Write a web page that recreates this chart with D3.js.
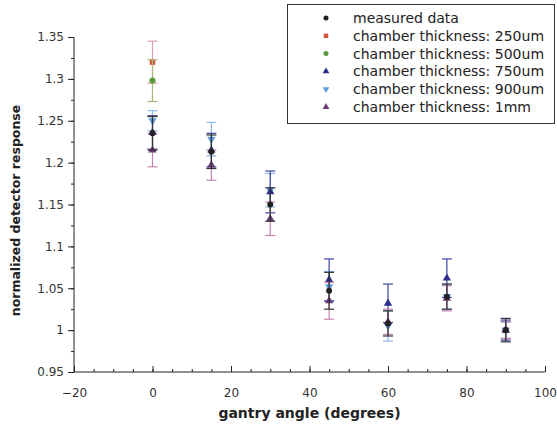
<!DOCTYPE html>
<html>
<head>
<meta charset="utf-8">
<script src="https://cdn.jsdelivr.net/npm/d3@7"></script>
<style>
body { margin: 0; background: #fff; }
text { font-family: "DejaVu Sans", sans-serif; }
</style>
</head>
<body>
<div id="chart"></div>
<script>
// gantry angles and normalized responses
const angles = [0, 15, 30, 45, 60, 75, 90];

const measured = [1.235, 1.213, 1.15, 1.047, 1.008, 1.04, 1.0];
const measuredErr = [0.02, 0.02, 0.02, 0.022, 0.015, 0.015, 0.014];

const t250 = [1.32, null, null, null, null, null, 1.0];
const t250Err = [0.025, null, null, null, null, null, 0.01];

const t500 = [1.298, null, null, null, null, null, 1.0];
const t500Err = [0.025, null, null, null, null, null, 0.01];

const t750 = [1.236, 1.215, 1.165, 1.06, 1.032, 1.062, 1.0];
const t750Err = [0.02, 0.02, 0.025, 0.025, 0.023, 0.023, 0.012];

const t900 = [1.25, 1.228, 1.167, 1.052, 1.005, 1.04, 1.0];
const t900Err = [0.012, 0.02, 0.02, 0.018, 0.018, 0.015, 0.01];

const t1mm = [1.215, 1.197, 1.133, 1.035, 1.01, 1.038, 1.0];
const t1mmErr = [0.02, 0.018, 0.02, 0.022, 0.015, 0.015, 0.01];

const xTicks = [-20, 0, 20, 40, 60, 80, 100];
const yTicks = [0.95, 1, 1.05, 1.1, 1.15, 1.2, 1.25, 1.3, 1.35];

const series = [
    {name: 'chamber thickness: 250um', vals: t250, errs: t250Err, color: '#d2553a', bar: '#dd9fb8', symbol: d3.symbolSquare, size: 30},
    {name: 'chamber thickness: 500um', vals: t500, errs: t500Err, color: '#5e9a3c', bar: '#a9b87c', symbol: d3.symbolCircle, size: 30},
    {name: 'chamber thickness: 900um', vals: t900, errs: t900Err, color: '#5b9fde', bar: '#8cb9e6', symbol: 'down', size: 30},
    {name: 'chamber thickness: 750um', vals: t750, errs: t750Err, color: '#2c2f8c', bar: '#3d45a6', symbol: d3.symbolTriangle, size: 30},
    {name: 'chamber thickness: 1mm', vals: t1mm, errs: t1mmErr, color: '#6b3b78', bar: '#c584b4', symbol: d3.symbolTriangle, size: 30},
    {name: 'measured data', vals: measured, errs: measuredErr, color: '#222', bar: '#333', symbol: d3.symbolCircle, size: 28}
];
const legendOrder = ['measured data', 'chamber thickness: 250um', 'chamber thickness: 500um',
    'chamber thickness: 750um', 'chamber thickness: 900um', 'chamber thickness: 1mm'];

const W = 557, H = 427;
const margin = {left: 74, right: 12, top: 37, bottom: 55};

let svg = d3.select('#chart').append('svg').attr('width', W).attr('height', H);

let x = d3.scaleLinear().domain([-20, 100]).range([margin.left, W - margin.right - 0]);
let y = d3.scaleLinear().domain([0.95, 1.35]).range([H - margin.bottom, margin.top]);

const symPath = function(s, size) {
    if (s === 'down') {
        return d3.symbol().type(d3.symbolTriangle).size(size)();
    }
    return d3.symbol().type(s).size(size)();
};

// x axis: ticks point up into the plot
let xAxis = svg.append('g').attr('transform', 'translate(0,' + y(0.95) + ')');
xAxis.call(d3.axisBottom(x).tickValues(d3.range(-20, 101, 5)).tickSize(-3).tickFormat(''));
xAxis.call(g => g.selectAll('.tick line').attr('stroke', '#222'));
let xMajor = svg.append('g').attr('transform', 'translate(0,' + y(0.95) + ')')
    .call(d3.axisBottom(x).tickValues(xTicks).tickSize(-6).tickPadding(16)
        .tickFormat(d => d < 0 ? '\u2212' + Math.abs(d) : d));
xMajor.select('.domain').remove();
xMajor.selectAll('.tick line').attr('stroke', '#222');
xMajor.selectAll('.tick text').attr('font-size', 12).attr('fill', '#333').attr('font-family', 'DejaVu Sans');
xAxis.select('.domain').attr('stroke', '#222').attr('d', 'M' + x(-20) + ',0H' + x(100));

// y axis: ticks point outward
let yAxis = svg.append('g').attr('transform', 'translate(' + x(-20) + ',0)');
yAxis.call(d3.axisLeft(y).tickValues(d3.range(0, 17).map(i => 0.95 + i * 0.025)).tickSize(3).tickFormat(''));
yAxis.selectAll('.tick line').attr('stroke', '#222');
yAxis.select('.domain').attr('stroke', '#222').attr('d', 'M0,' + y(1.35) + 'V' + y(0.95));
let yMajor = svg.append('g').attr('transform', 'translate(' + x(-20) + ',0)')
    .call(d3.axisLeft(y).tickValues(yTicks).tickSize(6).tickPadding(4).tickFormat(d3.format('')));
yMajor.select('.domain').remove();
yMajor.selectAll('.tick line').attr('stroke', '#222');
yMajor.selectAll('.tick text').attr('font-size', 12).attr('fill', '#333').attr('font-family', 'DejaVu Sans');

// axis titles
svg.append('text')
    .attr('x', (x(-20) + x(100)) / 2)
    .attr('y', 418)
    .attr('text-anchor', 'middle')
    .attr('font-size', 14)
    .attr('font-weight', 'bold')
    .attr('fill', '#222')
    .text('gantry angle (degrees)');
svg.append('text')
    .attr('transform', 'translate(20,' + ((y(0.95) + y(1.35)) / 2 + 6) + ') rotate(-90)')
    .attr('text-anchor', 'middle')
    .attr('font-size', 12.5)
    .attr('font-weight', 'bold')
    .attr('fill', '#222')
    .text('normalized detector response');

// error bars and markers
let plot = svg.append('g');
series.forEach(function(s) {
    let pts = angles.map((a, i) => ({a: a, v: s.vals[i], e: s.errs[i]})).filter(d => d.v !== null);
    let g = plot.append('g');
    pts.forEach(function(d) {
        let cx = x(d.a);
        g.append('line').attr('x1', cx).attr('x2', cx).attr('y1', y(d.v - d.e)).attr('y2', y(d.v + d.e))
            .attr('stroke', s.bar).attr('stroke-width', 1.2);
        [d.v - d.e, d.v + d.e].forEach(function(v) {
            g.append('line').attr('x1', cx - 5).attr('x2', cx + 5).attr('y1', y(v)).attr('y2', y(v))
                .attr('stroke', s.bar).attr('stroke-width', 1.2);
        });
    });
    g.selectAll('.mk')
        .data(pts)
        .enter()
        .append('path')
        .attr('d', symPath(s.symbol, s.size))
        .attr('transform', d => 'translate(' + x(d.a) + ',' + y(d.v) + ')' + (s.symbol === 'down' ? ' rotate(180)' : ''))
        .attr('fill', s.color);
});

// legend
let leg = svg.append('g');
leg.append('rect')
    .attr('x', 287.5).attr('y', 4.5).attr('width', 267).attr('height', 119)
    .attr('fill', '#fff').attr('stroke', '#333').attr('stroke-width', 1);
legendOrder.forEach(function(name, i) {
    let s = series.find(d => d.name === name);
    let ly = 18 + i * 17.8;
    leg.append('path')
        .attr('d', symPath(s.symbol, 20))
        .attr('transform', 'translate(326,' + ly + ')' + (s.symbol === 'down' ? ' rotate(180)' : ''))
        .attr('fill', s.color);
    leg.append('text')
        .attr('x', 353).attr('y', ly + 5)
        .attr('font-size', 14)
        .attr('fill', '#222')
        .text(name);
});
</script>
</body>
</html>
